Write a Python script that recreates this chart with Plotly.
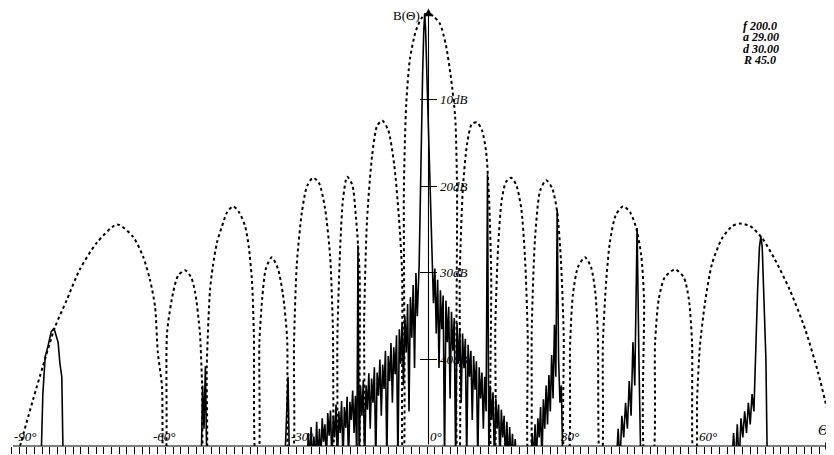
import plotly.graph_objects as go

# ---------------- data (angle in degrees, attenuation in dB) ----------------
# dotted envelope curve
env_deg = [-89.2,-85.3,-83.2,-80.6,-78.0,-75.2,-71.5,-67.1,-63.7,-61.5,-60.0,-58.9,-58.3,-57.4,-57.0,
           -56.7,-56.3,-55.0,-53.9,-52.4,-51.1,-50.2,-49.2,-48.7,-48.3,
           -47.9,-47.7,-47.0,-46.4,-45.5,-44.4,-43.3,-42.0,-40.7,-39.4,-38.6,-37.9,-37.5,-37.0,
           -36.6,-36.3,-35.7,-34.9,-33.6,-32.3,-31.2,-30.3,-29.8,
           -29.2,-28.8,-28.2,-27.1,-26.0,-24.7,-23.4,-22.1,-21.0,-20.4,-19.9,
           -19.7,-19.4,-18.8,-18.2,-17.3,-16.2,-15.4,-14.6,-14.2,
           -13.9,-13.6,-13.0,-11.9,-10.8,-9.7,-8.4,-7.1,-6.1,-5.4,-5.2,
           -5.1,-5.0,-4.5,-3.7,-2.4,-1.1,0.2,1.5,2.8,4.1,5.2,6.1,6.5,6.7,
           6.9,7.1,7.8,8.7,9.7,10.8,11.9,12.8,13.4,13.9,14.1,
           14.5,14.8,15.4,16.2,17.1,18.2,19.3,20.4,21.2,21.8,22.0,
           22.3,22.7,23.4,24.5,25.8,27.1,28.2,29.0,29.6,29.9,
           30.5,31.0,31.6,32.7,34.2,35.5,36.4,37.0,37.5,
           37.8,38.1,38.8,39.6,40.9,42.5,44.0,45.3,46.4,47.0,47.4,
           48.7,49.4,50.2,51.5,53.7,55.6,56.7,57.4,57.8,
           58.2,58.5,59.1,60.2,61.7,63.9,66.1,67.8,70.0,72.6,75.4,78.6,81.9,84.7,86.8,88.2,90.0]
env_db = [52,44.6,40.8,36.3,33.1,29.6,26.5,24.4,25.8,28.1,30.8,33.9,39.2,43.1,52,
          52,36.9,32.3,30.3,29.7,30.5,32.3,36.9,43.1,52,
          52,40.8,32.0,29.3,26.5,24.6,23.0,22.3,23.0,24.6,27.0,31.0,37.0,52,
          52,38.0,33.0,29.5,28.2,29.5,32.5,37.5,52,
          52,38.0,29.0,23.0,20.0,19.0,19.6,22.5,28.0,36.0,52,
          52,37.0,27.0,21.5,18.9,19.8,23.5,30.0,52,
          52,35.0,24.0,16.5,13.0,12.4,13.5,17.5,23.5,30.0,52,
          52,20.0,10.5,5.3,2.0,0.5,0.0,0.4,1.2,3.7,7.5,12.0,20.0,52,
          52,30.0,20.0,15.0,12.8,12.6,13.5,16.0,21.0,30.0,52,
          52,36.0,27.0,21.5,19.5,19.0,19.8,22.5,28.0,37.0,52,
          52,36.0,26.0,20.5,19.3,20.2,23.0,28.5,37.0,52,
          52,38.0,32.5,29.3,28.2,29.3,32.0,37.0,52,
          52,38.0,31.0,26.5,23.3,22.3,23.0,24.8,28.0,33.0,52,
          52,38.0,33.0,30.5,29.6,30.5,33.0,38.0,52,
          52,44.6,38.5,33.5,29.0,26.0,24.6,24.3,24.6,26.0,28.5,32.0,36.5,41.5,46.0,48.5,52]

# solid beam pattern, read piece by piece
far_left_deg = [-92.0,-83.6,-83.2,-82.7,-82.1,-81.4,-80.8,-80.4,-79.9,-79.5,-79.1,-78.8]
far_left_db  = [52,52,44.0,39.7,38.5,36.8,36.4,37.0,38.0,40.5,42.0,52]

lobe48_deg = [-48.9,-48.6,-48.3,-48.0,-47.7]
lobe48_db  = [52,43.0,48.0,40.8,52]

lobe30_deg = [-30.8,-30.3,-30.1,-29.8]
lobe30_db  = [52,44.0,42.0,52]

left_noise_deg = [-26.0,-25.7,-25.4,-25.1,-24.8,-24.5,-24.2,-23.9,-23.6,-23.3,-23.0,-22.7,-22.4,-22.1,
                  -21.8,-21.5,-21.2,-20.9,-20.6,-20.3,-20.0,-19.7,-19.4,-19.1,-18.8,-18.5,-18.2,-17.9,
                  -17.6,-17.3,-17.0,-16.7,-16.4,-16.1,-15.8,-15.5,-15.2,-14.95,-14.7,-14.4,-14.1,-13.8,
                  -13.5,-13.2,-12.9,-12.6,-12.3,-12.0,-11.7,-11.4,-11.1,-10.8,-10.5,-10.2,-9.9,-9.6,
                  -9.3,-9.0,-8.7,-8.4,-8.1,-7.8,-7.5,-7.2,-6.9,-6.6,-6.3,-6.0,-5.7,-5.4,-5.1,-4.8,
                  -4.5,-4.2,-3.9,-3.6,-3.3,-3.0,-2.7,-2.4,-2.1]
left_noise_db = [52,48.5,52,47.8,52,48.9,52,47.2,52,48.0,52,46.8,49.5,47.5,
                 52,46.2,48.8,45.9,52,46.5,49.0,45.2,52,46.0,48.5,44.8,52,45.5,
                 47.9,44.3,52,44.9,47.0,43.6,48.5,44.2,52,26.8,52,43.0,46.5,42.4,
                 52,43.0,45.8,41.6,48.0,42.2,45.0,40.9,52,41.5,44.2,40.0,46.5,40.6,
                 43.4,39.0,52,39.6,42.5,38.1,45.0,38.6,41.7,37.2,52,36.5,40.5,35.8,43.0,35.0,
                 39.2,33.6,46.0,32.8,37.5,31.4,41.0,30.0,35.0]

main_deg = [-1.7,-1.45,-1.2,-0.95,-0.7,-0.5,-0.3,-0.05,0.3,0.7,1.1]
main_db  = [29.0,20.5,13.0,7.0,2.0,0.0,2.0,7.0,13.0,20.5,28.0]

right_noise_deg = [1.4,1.7,2.0,2.3,2.6,2.9,3.2,3.5,3.8,4.1,4.4,4.7,5.0,5.3,5.6,5.9,6.2,6.5,6.8,7.1,
                   7.4,7.7,8.0,8.3,8.6,8.9,9.2,9.5,9.8,10.1,10.4,10.7,11.0,11.3,11.6,11.9,12.2,12.5,12.8,
                   13.1,13.4,13.7,14.0,14.3,14.6,14.9,15.2,15.5,15.8,16.1,16.4,16.7,17.0,17.3,17.6,
                   17.9,18.2,18.5,18.8,19.1,19.4]
right_noise_db = [33.5,29.5,37.0,30.8,41.0,32.0,36.5,32.6,52,33.2,38.0,33.9,44.5,34.5,39.0,35.2,52,35.8,40.5,36.4,
                  45.0,37.0,41.0,37.6,52,38.3,42.0,39.0,47.0,39.6,43.5,40.2,52,40.9,44.5,41.5,48.0,42.0,46.0,
                  18.6,52,43.0,47.0,43.8,52,44.5,48.0,45.2,52,45.8,49.0,46.5,52,47.2,52,
                  47.8,52,48.6,52,49.2,52]

lobe28_deg = [22.5,22.8,23.1,23.4,23.7,24.0,24.3,24.6,24.9,25.2,25.5,25.8,26.1,26.4,26.7,27.0,
              27.3,27.6,27.9,28.2,28.5,28.8,29.1,29.4]
lobe28_db  = [52,48.5,52,47.5,52,46.8,49.0,45.5,52,44.6,48.0,43.0,47.5,41.8,46.0,39.5,
              44.5,36.0,42.0,22.7,40.0,45.0,43.0,52]

lobe45_deg = [41.0,41.4,41.8,42.2,42.6,43.0,43.4,43.8,44.2,44.6,45.0,45.5,45.9,46.3]
lobe45_db  = [52,48.0,52,46.5,49.0,45.0,48.0,42.5,46.5,38.0,43.0,24.8,40.0,52]

lobe72_deg = [66.0,66.4,66.8,67.2,67.6,68.0,68.4,68.8,69.2,69.6,70.0,70.4,70.8,71.2,71.6,72.0,
              72.3,72.6,73.0,73.4,73.7,90.0]
lobe72_db  = [52,48.5,52,47.5,52,46.8,49.0,46.0,48.5,45.0,47.5,44.0,46.0,38.0,32.0,27.0,
              25.8,27.0,33.0,40.0,52,52]

x_label_vals = [-90, -60, -30, 0, 30, 60]
x_label_text = ["-90°", "-60°", "-30°", "0°", "30°", "60°"]
y_tick_vals = [10, 20, 30, 40]
y_tick_text = ["10dB", "20dB", "30dB", "40dB"]
param_lines = ["f 200.0", "a 29.00", "d 30.00", "R 45.0"]

# ---------------- figure ----------------
pat_deg = (far_left_deg + lobe48_deg + lobe30_deg + left_noise_deg + main_deg +
           right_noise_deg + lobe28_deg + lobe45_deg + lobe72_deg)
pat_db = (far_left_db + lobe48_db + lobe30_db + left_noise_db + main_db +
          right_noise_db + lobe28_db + lobe45_db + lobe72_db)

SERIF = "Liberation Serif, Times New Roman, serif"
# the page body adds an 8px offset; the plot area is laid out to compensate
XR = [-90.75, 89.88]
YR = [50, -0.61]
AXIS_X = 0.32
LABEL_SHIFT = [1, 1, 1, 1, -8, -7]

fig = go.Figure()
fig.add_trace(go.Scatter(x=env_deg, y=env_db, mode="lines",
                         line=dict(color="black", width=2, dash="3px,3px", shape="spline", smoothing=0.7),
                         hoverinfo="skip"))
fig.add_trace(go.Scatter(x=pat_deg, y=pat_db, mode="lines",
                         line=dict(color="black", width=1.6), hoverinfo="skip"))
fig.add_trace(go.Scatter(x=[None], y=[None], yaxis="y2", showlegend=False))

ticks_x = [-90 + i * 5 / 3 for i in range(108)]
ypos = (AXIS_X - XR[0]) / (XR[1] - XR[0])

fig.update_layout(
    width=834, height=455,
    margin=dict(l=0, r=0, t=0, b=17, autoexpand=False),
    paper_bgcolor="white", plot_bgcolor="white",
    showlegend=False,
    xaxis=dict(range=XR, showgrid=False, zeroline=False, showline=False, automargin=False,
               tickvals=ticks_x, ticks="outside", ticklen=7, tickwidth=1.3, tickcolor="black",
               showticklabels=False, fixedrange=True),
    yaxis=dict(range=YR, showgrid=False, zeroline=False, showline=False, automargin=False,
               anchor="free", position=ypos, side="right",
               tickvals=y_tick_vals, ticktext=y_tick_text, ticks="outside", ticklen=8,
               tickwidth=1, tickcolor="black",
               tickfont=dict(family=SERIF, size=13, color="black", style="italic")),
    yaxis2=dict(range=YR, overlaying="y", showgrid=False, zeroline=False, showline=False,
                automargin=False, anchor="free", position=ypos, side="left",
                tickvals=y_tick_vals, ticks="outside", ticklen=8, tickwidth=1,
                tickcolor="black", showticklabels=False),
)

ann = []
ann.append(dict(x=87.9, y=50, ax=-90, ay=50, xref="x", yref="y", axref="x", ayref="y",
                text="", showarrow=True, arrowhead=2, arrowsize=1.4, arrowwidth=1.1,
                arrowcolor="black", standoff=0, startstandoff=0))
ann.append(dict(x=AXIS_X, y=-0.55, ax=AXIS_X, ay=50, xref="x", yref="y", axref="x", ayref="y",
                text="", showarrow=True, arrowhead=2, arrowsize=1.4, arrowwidth=1.1,
                arrowcolor="black", standoff=0, startstandoff=0))
for v, t, s in zip(x_label_vals, x_label_text, LABEL_SHIFT):
    ann.append(dict(x=v, y=50, xref="x", yref="y", text=t, showarrow=False,
                    xanchor="left", yanchor="bottom", yshift=0, xshift=s,
                    font=dict(family=SERIF, size=13, color="black", style="italic")))
ann.append(dict(x=88.15, y=50, xref="x", yref="y", text="Θ", showarrow=False,
                xanchor="right", yanchor="bottom", yshift=6, xshift=-4,
                font=dict(family=SERIF, size=14, color="black", style="italic")))
ann.append(dict(x=-1.0, y=0.2, xref="x", yref="y", text="B(Θ)", showarrow=False,
                xanchor="right", yanchor="middle",
                font=dict(family=SERIF, size=13, color="black")))
for i, line in enumerate(param_lines):
    ann.append(dict(x=734 / 834, y=1 - (18 + 11.4 * i) / 438, xref="paper", yref="paper",
                    text=line, showarrow=False, xanchor="left", yanchor="middle", borderpad=0,
                    font=dict(family=SERIF, size=12, color="black", style="italic", weight="bold")))
fig.update_layout(annotations=ann)

fig.write_html("out.html")
